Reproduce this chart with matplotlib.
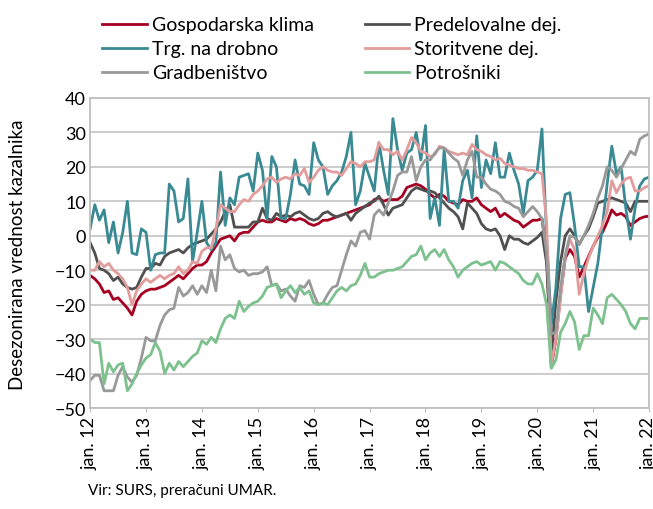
import matplotlib.pyplot as plt
import numpy as np
from matplotlib.ticker import MultipleLocator

plt.rcParams['font.family'] = ['Lato', 'DejaVu Sans']
plt.rcParams['font.size'] = 13

# monthly values, jan 2012 .. jan 2022
gospodarska = [
    -11.5, -12.5, -14, -16.5, -16, -18.5, -18, -19.5, -21, -23, -19, -17,
    -16, -15.5, -15.5, -15, -14.5, -13.5, -12.5, -11.5, -12.5, -11, -9.5, -8.5,
    -8.5, -7.5, -5, -3, -1, -0.5, 0, -1.5, 0.5, 1, 1, 2.5,
    4, 4.5, 4, 4, 5, 4.5, 4, 5, 4.5, 5, 4.5, 3.5,
    3, 3.5, 4.5, 4.5, 5, 5.5, 6, 6.5, 7, 7.5, 8, 8.5,
    9, 10.5, 11, 10, 10.5, 10.5, 10.5, 11.5, 14, 14.5, 15, 14.5,
    13.5, 12, 11, 12, 11.5, 10, 9.5, 9, 10.5, 10, 10, 11,
    9, 8, 7, 8, 5.5, 6.5, 5.5, 4.5, 4, 2.5, 3.5, 4.5,
    4.5, 5, -5, -38, -30, -17, -6.5, -4, -6, -12, -9, -6,
    -3, -0.5, 1, 4, 7.5, 6, 6.5, 5.5, 3, 4, 5, 5.5,
    5.7]
predelovalne = [
    -2, -5, -9.5, -10, -11, -13, -12, -14, -15, -15.5, -15, -12,
    -9.5, -9.5, -8, -8.5, -6, -5, -4.5, -4, -5, -3.5, -2.5, -2,
    -1.5, -1, 0.5, 2, 4, 7, 9, 2.5, 2.5, 2.5, 2.5, 4,
    4, 8, 5, 4.5, 6.5, 5.5, 6, 5.5, 6.5, 7, 6, 5,
    4.5, 5, 6.5, 7, 6, 5.5, 6, 6.5, 4.5, 6.5, 7.5, 8.5,
    9.5, 10, 11.5, 9, 6, 8, 8.5, 9, 11, 13, 14, 13.5,
    13, 13, 12.5, 11, 9.5, 8, 7, 5.5, 2, 9.5, 8, 6.5,
    3.5, 2, 1.5, 2, 0, -4, 0, -1, -1, -2, -2.5, -1.5,
    -0.5, 1, -8, -35, -19, -7.5, 0, 2, 0, -2.5, 0, 2,
    5.5, 9.5, 10, 10.5, 11, 10.5, 10, 9.5, 7, 10, 10, 10,
    10]
trgovina = [
    2, 9, 4.5, 7.5, -2, 4, -5, 1, 10, -5, -5.5, 2,
    1, -10, -5.5, -5, -5, 15, 13, 4, 5, 16.5, -7.5, 1,
    10, -2, -4, -2, 18.5, 3, 11, 9, 17, 17.5, 18, 13,
    24, 19, 5, 23, 20, 5, 5, 12, 22, 15, 14.5, 12,
    27, 22, 20, 12, 14.5, 16, 18.5, 23, 30, 9, 13, 21,
    17, 13, 27, 19, 12, 34, 25, 19, 24, 25, 30, 22,
    32, 5, 11, 3, 25, 10, 10, 8, 16, 19, 11, 29,
    14, 22, 18, 27, 17, 17, 24, 19, 15, 6.5, 16, 17,
    19, 31, 0, -26, -15, 5, 12, 12.5, 3, -9, -9, -22,
    -15, -8, 3, 15, 26, 18, 20, 8, -1, 8, 14.5, 16.5,
    17]
storitvene = [
    -10, -10, -7.5, -9, -8, -10, -11, -12.5, -15, -20, -16, -14,
    -12.5, -13.5, -12.5, -11.5, -12.5, -11.5, -11, -9, -11, -10, -7.5, -8,
    -4.5, -3.5, -3.5, 2, 9, 8, 7, 7, 9, 10.5, 10, 12,
    13, 14.5, 16.5, 17, 15.5, 16.5, 17, 16.5, 18, 17.5, 19.5, 15.5,
    17, 19, 20, 19, 18.5, 18.5, 17.5, 19.5, 21.5, 21, 20, 21.5,
    21.5, 22, 27, 25, 25, 23.5, 24.5, 22, 25, 28.5, 27, 24.5,
    24, 23, 23.5, 26, 25.5, 24.5, 24, 23.5, 24, 23.5, 26.5, 25,
    24.5, 23.5, 23, 22, 22.5, 21, 20.5, 20, 19.5, 19.5, 19, 19,
    18.5, 18, 4, -37.5, -30, -18, -6, -1, -4, -17, -11, -6.5,
    -3, 0, 3, 7, 16, 12.5, 15, 16.5, 17, 13, 13, 14,
    14.5]
gradbenistvo = [
    -42, -40.5, -40.5, -45, -45, -45, -40.5, -38, -41, -42.5, -40.5, -35.5,
    -29.5, -30.5, -30.5, -26, -23, -21.5, -21, -15, -17.5, -16.5, -14.5, -17,
    -14.5, -16.5, -10, -16, -3, -7, -5.5, -9.5, -10.5, -10, -11.5, -11,
    -11, -10.5, -9, -14.5, -14, -16, -15.5, -17.5, -19, -14.5, -15, -13,
    -17, -20, -19.5, -17, -15, -14.5, -10, -5.5, -1.5, -3, 1, 1.5,
    -1, 6, 7.5, 6, 9.5, 13, 17.5, 18.5, 18.5, 23, 16, 20,
    22, 22, 24, 25.5, 25.5, 24, 22.5, 21.5, 17.5, 22, 24.5, 17,
    17, 15, 13.5, 13, 12, 10, 9.5, 8.5, 8, 5.5, 7, 8.5,
    7, 5, -5, -28.5, -28, -15, -5.5, 0, -0.5, -2.5, 0, 3,
    6.5, 11, 14.5, 20, 19, 17, 19.5, 22, 24.5, 23.5, 28, 29,
    29.5]
potrosniki = [
    -30, -31, -31, -43, -37, -39.5, -37.5, -37, -45, -43, -40, -37.5,
    -35.5, -34.5, -31, -33.5, -40, -37, -39, -36.5, -38, -36.5, -35, -34,
    -30.5, -31.5, -29.5, -31, -27, -24, -23, -24, -19, -22, -20.5, -19.5,
    -19, -17.5, -15, -14.5, -14, -18, -16, -14.5, -16.5, -15, -17, -16,
    -19.5, -20, -19.5, -20, -18, -16, -15, -16, -14.5, -14, -11.5, -8,
    -12, -12, -11, -10.5, -10, -10, -9.5, -9, -7.5, -6, -5.5, -3,
    -7, -5, -4, -6, -4, -7, -9, -12, -10, -9, -8, -7.5,
    -8.5, -8, -7.5, -10, -7.5, -8, -9, -10, -11, -13, -14, -14,
    -11, -14, -20, -38.5, -36, -28, -25.5, -22, -25, -33, -29, -29,
    -21, -23, -25.5, -18, -17, -18.5, -20, -22, -25.5, -27, -24, -24,
    -24]

series = [
    ('Gospodarska klima', gospodarska, '#a50021'),
    ('Predelovalne dej.', predelovalne, '#505050'),
    ('Trg. na drobno', trgovina, '#3a8a94'),
    ('Storitvene dej.', storitvene, '#e39c9c'),
    ('Gradbeništvo', gradbenistvo, '#999999'),
    ('Potrošniki', potrosniki, '#7dc18e'),
]
tick_labels = ['jan. %d' % y for y in range(12, 23)]

months = np.arange(len(gospodarska))

fig = plt.figure(figsize=(6.53, 5.10), dpi=100)
ax = fig.add_axes([0.138, 0.198, 0.856, 0.608])

lines = {}
for name, vals, col in series:
    lines[name], = ax.plot(months, vals, color=col, lw=2.0, label=name)

ax.set_xlim(0, 120)
ax.set_ylim(-50, 40)
ax.yaxis.set_major_locator(MultipleLocator(10))
ax.set_xticks(np.arange(0, 121, 12))
ax.set_xticklabels(tick_labels, rotation=90)
ax.grid(axis='y', color='#c8c8c8', lw=1.3)
ax.set_axisbelow(True)
for s in ax.spines.values():
    s.set_color('#bfbfbf')
    s.set_linewidth(1.3)
ax.tick_params(axis='both', length=3, color='#bfbfbf', pad=3)
ax.tick_params(axis='y', length=0)

fig.text(0.027, 0.5, 'Desezonirana vrednost kazalnika', rotation=90,
         ha='center', va='center', fontsize=13.5)

# legend: 3 rows x 2 columns, row-major like the original
order = ['Gospodarska klima', 'Trg. na drobno', 'Gradbeništvo',
         'Predelovalne dej.', 'Storitvene dej.', 'Potrošniki']
fig.legend([lines[n] for n in order], order, ncol=2, frameon=False,
           loc='upper left', bbox_to_anchor=(0.142, 0.985), borderpad=0,
           fontsize=14, handlelength=2.3, handletextpad=0.25,
           columnspacing=2.6, labelspacing=0.36)

fig.text(0.135, 0.03, 'Vir: SURS, preračuni UMAR.', fontsize=11)

fig.savefig('out.png', dpi=100)
